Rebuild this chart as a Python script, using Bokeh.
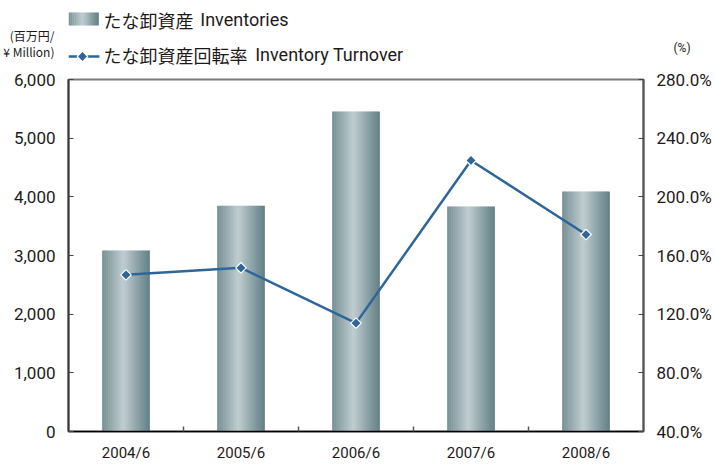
import math
from bokeh.plotting import figure
from bokeh.models import (Range1d, LinearAxis, FixedTicker, PrintfTickFormatter,
                          NumeralTickFormatter, ColumnDataSource, Label)
from bokeh.layouts import column
from bokeh.embed import file_html
from bokeh.resources import INLINE

# ---- data ----
periods = ["2004/6", "2005/6", "2006/6", "2007/6", "2008/6"]
inventories = [3085, 3850, 5455, 3835, 4090]          # 百万円 / ¥ Million
turnover = [146.8, 151.6, 113.9, 224.8, 174.3]        # %
left_ticks = [0, 1000, 2000, 3000, 4000, 5000, 6000]
right_ticks = [40, 80, 120, 160, 200, 240, 280]
legend_bar = "たな卸資産"
legend_bar_en = "Inventories"
legend_line = "たな卸資産回転率"
legend_line_en = "Inventory Turnover"
unit_left_1 = "(百万円/"
unit_left_2 = "¥ Million)"
unit_right = "(%)"

# ---- styles ----
LINE_C = "#2f6699"
TEXT_C = "#1e1a1b"
STOPS = [(0.0, (0x76, 0x90, 0x95)), (0.45, (0xc0, 0xcd, 0xd1)), (1.0, (0x62, 0x7f, 0x85))]


def grad(t):
    for (t0, c0), (t1, c1) in zip(STOPS[:-1], STOPS[1:]):
        if t <= t1:
            f = (t - t0) / (t1 - t0)
            return "#%02x%02x%02x" % tuple(int(round(a + (b - a) * f)) for a, b in zip(c0, c1))
    return "#%02x%02x%02x" % STOPS[-1][1]


W = 715
H_HEAD = 68
H_MAIN = 396
B_LEFT, B_RIGHT = 67, 72
N = 24
BAR_W = 0.82
n = len(periods)
xs = [2 * i + 1 for i in range(n)]


def hide_axis(ax):
    ax.axis_line_color = None
    ax.major_tick_line_color = None
    ax.minor_tick_line_color = None
    ax.major_tick_in = 0
    ax.major_tick_out = 0
    ax.minor_tick_in = 0
    ax.minor_tick_out = 0


# ---- main chart ----
p = figure(width=W, height=H_MAIN, x_range=Range1d(0, 2 * n), y_range=Range1d(0, 6000),
           toolbar_location=None, output_backend="svg",
           min_border_left=B_LEFT, min_border_right=B_RIGHT, min_border_top=11, min_border_bottom=33)
p.extra_y_ranges = {"pct": Range1d(40, 280)}
p.grid.visible = False
p.background_fill_color = "white"
p.border_fill_color = "white"
p.outline_line_color = "#7a7a7a"
p.outline_line_width = 2

# gradient bars as thin strips
sx, stop, sc = [], [], []
sw = BAR_W / N
for k in range(N):
    off = -BAR_W / 2 + (k + 0.5) * sw
    col = grad((k + 0.5) / N)
    for x, v in zip(xs, inventories):
        sx.append(x + off)
        stop.append(v)
        sc.append(col)
src = ColumnDataSource(dict(x=sx, top=stop, color=sc))
p.vbar(x="x", top="top", bottom=0, width=sw * 1.3, fill_color="color", line_color=None, source=src)

p.line(xs, turnover, y_range_name="pct", line_color=LINE_C, line_width=2.5)
p.scatter(xs, turnover, y_range_name="pct", marker="square", angle=math.pi / 4, size=7.5,
          fill_color=LINE_C, line_color="white", line_width=1.2)

# x axis
xa = p.xaxis[0]
xa.ticker = FixedTicker(ticks=xs, minor_ticks=[2 * i for i in range(1, n)])
xa.major_label_overrides = {x: lab for x, lab in zip(xs, periods)}
xa.major_tick_line_color = None
xa.major_tick_in = 0
xa.major_tick_out = 0
xa.minor_tick_in = 5
xa.minor_tick_out = 0
xa.minor_tick_line_color = "#555555"
xa.minor_tick_line_width = 1.5
xa.axis_line_color = "black"
xa.axis_line_width = 1.5
xa.major_label_text_font = "Roboto"
xa.major_label_text_font_size = "15px"
xa.major_label_text_color = TEXT_C
xa.major_label_standoff = 12

# left axis
ya = p.yaxis[0]
ya.ticker = FixedTicker(ticks=left_ticks)
ya.formatter = NumeralTickFormatter(format="0,0")
ya.major_tick_in = 5
ya.major_tick_out = 0
ya.minor_tick_line_color = None
ya.major_tick_line_color = "#444444"
ya.axis_line_color = "#3a3a3a"
ya.axis_line_width = 2
ya.major_label_text_font = "Roboto"
ya.major_label_text_font_size = "17px"
ya.major_label_text_color = TEXT_C
ya.major_label_standoff = 13

# right axis
ra = LinearAxis(y_range_name="pct", ticker=FixedTicker(ticks=right_ticks),
                formatter=PrintfTickFormatter(format="%.1f%%"))
ra.major_tick_in = 5
ra.major_tick_out = 0
ra.minor_tick_line_color = None
ra.major_tick_line_color = "#444444"
ra.axis_line_color = "#555555"
ra.axis_line_width = 2
ra.major_label_text_font = "Roboto"
ra.major_label_text_font_size = "17px"
ra.major_label_text_color = TEXT_C
ra.major_label_standoff = 13
p.add_layout(ra, "right")

# ---- legend / header strip (pixel coordinates, y downward) ----
h = figure(width=W, height=H_HEAD, x_range=Range1d(B_LEFT, W - B_RIGHT), y_range=Range1d(H_HEAD, 0),
           toolbar_location=None, output_backend="svg",
           min_border_left=B_LEFT, min_border_right=B_RIGHT, min_border_top=0, min_border_bottom=0,
           x_axis_location=None, y_axis_location="left")
h.grid.visible = False
h.outline_line_color = None
h.background_fill_color = "white"
h.border_fill_color = "white"

# unit captions as header axis labels
hl = h.yaxis[0]
hide_axis(hl)
hl.ticker = FixedTicker(ticks=[35, 51])
hl.major_label_overrides = {35: unit_left_1, 51: unit_left_2}
hl.major_label_text_font = "Noto Sans CJK JP"
hl.major_label_text_font_size = "12px"
hl.major_label_text_color = TEXT_C
hl.major_label_standoff = 14

hr = LinearAxis(ticker=FixedTicker(ticks=[47]))
hide_axis(hr)
hr.major_label_overrides = {47: unit_right}
hr.major_label_text_font = "Roboto"
hr.major_label_text_font_size = "12px"
hr.major_label_text_color = TEXT_C
hr.major_label_standoff = 30
h.add_layout(hr, "right")

# gradient swatch
M = 16
lefts = [67 + 30 * k / M for k in range(M)]
rights = [67 + 30 * (k + 1) / M + 0.4 for k in range(M)]
cols = [grad((k + 0.5) / M) for k in range(M)]
h.quad(left=lefts, right=rights, top=12, bottom=25, fill_color=cols, line_color=None)

h.line([67, 98], [56, 56], line_color=LINE_C, line_width=2.5)
h.scatter([81], [56], marker="square", angle=math.pi / 4, size=7.5,
          fill_color=LINE_C, line_color="white", line_width=1.2)


def lab(x, y, t, font, size):
    h.add_layout(Label(x=x, y=y, text=t, text_font=font, text_font_size=size,
                       text_baseline="middle", text_align="left", text_color=TEXT_C))


lab(102, 19, legend_bar, "Noto Sans CJK JP", "18px")
lab(199, 19, legend_bar_en, "Roboto", "18px")
lab(102, 54, legend_line, "Noto Sans CJK JP", "18px")
lab(254, 54, legend_line_en, "Roboto", "18px")

layout = column(h, p, spacing=0)
open("out.html", "w").write(file_html(layout, INLINE))
